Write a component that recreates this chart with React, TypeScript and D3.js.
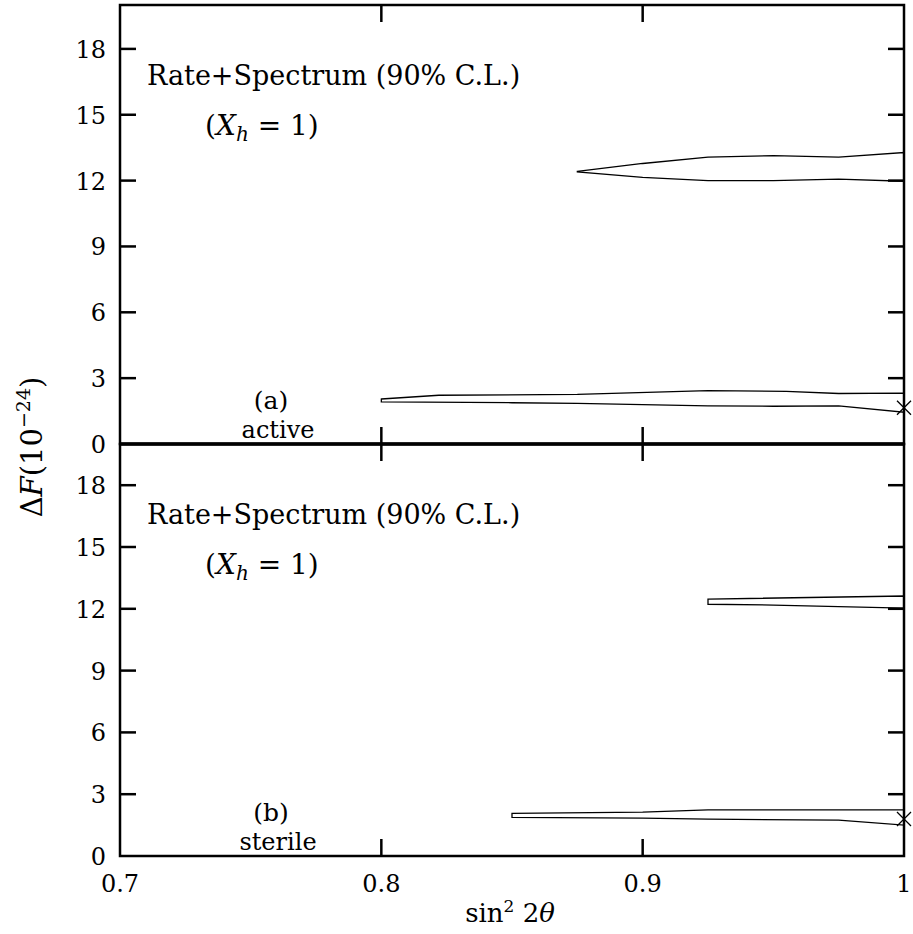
import * as d3 from "d3";
import { useEffect, useRef } from "react";

// ----- data -----
const xTicks = [0.7, 0.8, 0.9, 1.0];
const xTickLabels = ["0.7", "0.8", "0.9", "1"];
const yTicks = [0, 3, 6, 9, 12, 15, 18];

// panel (a) active: contours as [sin^2 2theta, dF]
const activeUpper = [
    [0.875, 12.42], [0.9, 12.78], [0.925, 13.07], [0.95, 13.14], [0.975, 13.07], [1.0, 13.28],
    [1.0, 11.97], [0.975, 12.07], [0.95, 12.0], [0.925, 12.0], [0.9, 12.15], [0.875, 12.4],
];
const activeLower = [
    [0.8, 2.05], [0.822, 2.22], [0.875, 2.26], [0.925, 2.43], [0.955, 2.4], [0.975, 2.3], [1.0, 2.32],
    [1.0, 1.45], [0.975, 1.74], [0.95, 1.72], [0.925, 1.74], [0.875, 1.85], [0.85, 1.88], [0.8, 1.92],
];
const activeBest = [1.0, 1.65];

// panel (b) sterile
const sterileUpper = [
    [0.925, 12.47], [1.0, 12.62], [1.0, 12.03], [0.95, 12.18], [0.925, 12.22],
];
const sterileLower = [
    [0.85, 2.07], [0.9, 2.13], [0.925, 2.24], [1.0, 2.24],
    [1.0, 1.5], [0.975, 1.74], [0.925, 1.79], [0.9, 1.84], [0.85, 1.87],
];
const sterileBest = [1.0, 1.8];

const panels = [
    { top: 5, bottom: 444, tag: "(a)", kind: "active", contours: [activeUpper, activeLower], best: activeBest },
    { top: 444, bottom: 856, tag: "(b)", kind: "sterile", contours: [sterileUpper, sterileLower], best: sterileBest },
];

export default function App() {
    const ref = useRef<SVGSVGElement>(null);

    useEffect(() => {
        const svg = d3.select(ref.current);
        svg.selectAll("*").remove();

        const left = 120, right = 904;
        const tickLen = 16;

        const X = d3.scaleLinear().domain([0.7, 1.0]).range([left, right]);

        panels.forEach((p) => {
            const Y = d3.scaleLinear().domain([0, 20]).range([p.bottom, p.top]);
            const g = svg.append("g");

            // frame
            g.append("rect")
                .attr("x", left).attr("y", p.top)
                .attr("width", right - left).attr("height", p.bottom - p.top)
                .attr("fill", "none").attr("stroke", "black").attr("stroke-width", 2.5);

            // y ticks both sides
            yTicks.forEach((t) => {
                if (t === 0) return;
                g.append("line")
                    .attr("x1", left).attr("x2", left + tickLen)
                    .attr("y1", Y(t)).attr("y2", Y(t))
                    .attr("stroke", "black").attr("stroke-width", 2.5);
                g.append("line")
                    .attr("x1", right).attr("x2", right - tickLen)
                    .attr("y1", Y(t)).attr("y2", Y(t))
                    .attr("stroke", "black").attr("stroke-width", 2.5);
            });
            yTicks.forEach((t) => {
                g.append("text").text(String(t))
                    .attr("x", 106).attr("y", Y(t) + 9)
                    .attr("text-anchor", "end")
                    .attr("font-size", 24);
            });

            // x ticks top and bottom
            xTicks.slice(1, 3).forEach((t) => {
                g.append("line")
                    .attr("x1", X(t)).attr("x2", X(t))
                    .attr("y1", p.bottom).attr("y2", p.bottom - 17)
                    .attr("stroke", "black").attr("stroke-width", 2.5);
                g.append("line")
                    .attr("x1", X(t)).attr("x2", X(t))
                    .attr("y1", p.top).attr("y2", p.top + 17)
                    .attr("stroke", "black").attr("stroke-width", 2.5);
            });

            // contours
            const line = d3.line<number[]>()
                .x((d) => X(d[0]))
                .y((d) => Y(d[1]))
                .curve(d3.curveLinearClosed);
            p.contours.forEach((c) => {
                g.append("path").attr("d", line(c))
                    .attr("fill", "none").attr("stroke", "black").attr("stroke-width", 1.3);
            });

            // best fit cross
            const bx = X(p.best[0]), by = Y(p.best[1]), s = 7;
            g.append("path")
                .attr("d", `M${bx - s},${by - s}L${bx + s},${by + s}M${bx - s},${by + s}L${bx + s},${by - s}`)
                .attr("stroke", "black").attr("stroke-width", 1.3);

            // annotations
            g.append("text").text("Rate+Spectrum (90% C.L.)")
                .attr("x", 147).attr("y", p.top + 80)
                .attr("font-size", 27);

            const xh = g.append("text")
                .attr("x", 205).attr("y", p.top + 130)
                .attr("font-size", 28);
            xh.append("tspan").text("(");
            xh.append("tspan").text("X").attr("font-style", "italic");
            xh.append("tspan").text("h").attr("font-style", "italic").attr("font-size", 20).attr("dy", 6);
            xh.append("tspan").text(" = 1)").attr("dy", -6);

            g.append("text").text(p.tag)
                .attr("x", 271).attr("y", p.bottom - 35)
                .attr("text-anchor", "middle")
                .attr("font-size", 25);
            g.append("text").text(p.kind)
                .attr("x", 278).attr("y", p.bottom - 6)
                .attr("text-anchor", "middle")
                .attr("font-size", 24);
        });

        // separator between panels
        svg.append("line")
            .attr("x1", left).attr("x2", right).attr("y1", 444).attr("y2", 444)
            .attr("stroke", "black").attr("stroke-width", 3.5);

        // x tick labels
        xTicks.forEach((t, i) => {
            svg.append("text").text(xTickLabels[i])
                .attr("x", X(t)).attr("y", 892)
                .attr("text-anchor", "middle")
                .attr("font-size", 24);
        });

        // x label
        const xl = svg.append("text")
            .attr("x", 510).attr("y", 922)
            .attr("text-anchor", "middle")
            .attr("font-size", 26);
        xl.append("tspan").text("sin");
        xl.append("tspan").text("2").attr("font-size", 17).attr("dy", -10);
        xl.append("tspan").text(" 2").attr("dy", 10);
        xl.append("tspan").text("θ").attr("font-style", "italic");

        // y label
        const yl = svg.append("text")
            .attr("transform", "translate(42,447) rotate(-90)")
            .attr("text-anchor", "middle")
            .attr("font-size", 29);
        yl.append("tspan").text("Δ");
        yl.append("tspan").text("F").attr("font-style", "italic");
        yl.append("tspan").text("(10");
        yl.append("tspan").text("−24").attr("font-size", 19).attr("dy", -12);
        yl.append("tspan").text(")").attr("dy", 12);
    }, []);

    return (
        <svg
            ref={ref}
            width={913}
            height={934}
            style={{ position: "absolute", left: 0, top: 0, background: "white", fontFamily: "DejaVu Serif, serif" }}
        />
    );
}
